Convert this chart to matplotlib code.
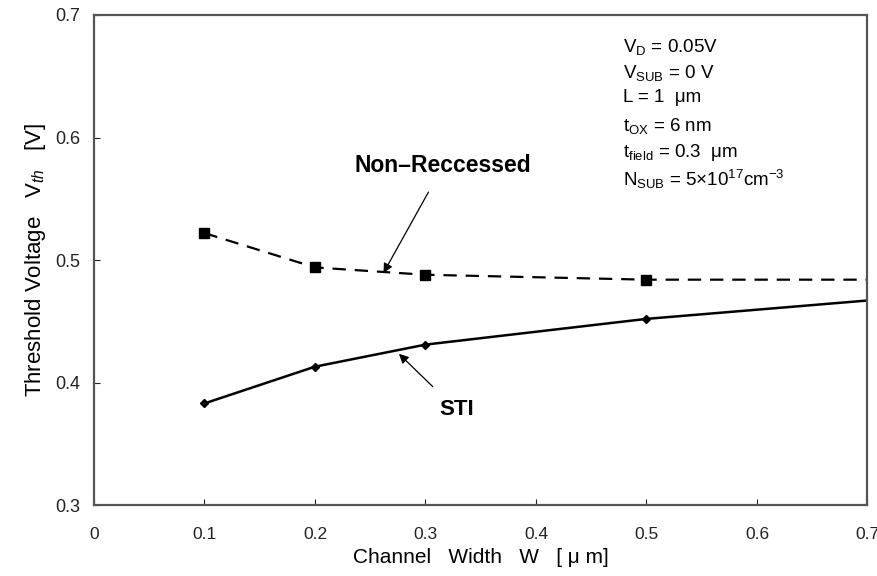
import matplotlib
matplotlib.use("Agg")
import matplotlib.pyplot as plt

plt.rcParams['font.family'] = ['Liberation Sans', 'DejaVu Sans']
plt.rcParams['mathtext.fontset'] = 'custom'
plt.rcParams['mathtext.rm'] = 'Liberation Sans'
plt.rcParams['mathtext.it'] = 'Liberation Sans:italic'

# channel width [um] and threshold voltage [V]
width_pts = [0.1, 0.2, 0.3, 0.5, 0.7]
vth_nonrecessed = [0.522, 0.494, 0.488, 0.484, 0.484]
vth_sti = [0.383, 0.413, 0.431, 0.452, 0.467]

xticks = [0, 0.1, 0.2, 0.3, 0.4, 0.5, 0.6, 0.7]
yticks = [0.3, 0.4, 0.5, 0.6, 0.7]

conditions = [
    r"V$_\mathrm{D}$ = 0.05V",
    r"V$_\mathrm{SUB}$ = 0 V",
    "L = 1  \u03bcm",
    r"t$_\mathrm{OX}$ = 6 nm",
    r"t$_\mathrm{field}$ = 0.3  $\mathrm{\mu}$m",
    r"N$_\mathrm{SUB}$ = 5$\times$10$^{17}$cm$^{-3}$",
]

fig = plt.figure(figsize=(8.78, 5.76), dpi=100)
ax = fig.add_axes([0.107, 0.123, 0.881, 0.851])

ax.plot(width_pts, vth_nonrecessed, color='black', lw=1.6, ls=(0, (6, 4)),
        marker='s', ms=6.5, markevery=[0, 1, 2, 3])
ax.plot(width_pts, vth_sti, color='black', lw=1.8, ls='-',
        marker='D', ms=4.5, markevery=[0, 1, 2, 3])

ax.set_xlim(0, 0.7)
ax.set_ylim(0.3, 0.7)
ax.set_xticks(xticks)
ax.set_yticks(yticks)
ax.set_xticklabels([f"{t:g}" for t in xticks])
ax.set_yticklabels([f"{t:.1f}" for t in yticks])
ax.tick_params(direction='in', length=4, width=0.8, colors='#222222')
ax.tick_params(axis='x', labelsize=12.5, pad=16)
ax.tick_params(axis='y', labelsize=13, pad=10)
for s in ax.spines.values():
    s.set_linewidth(1.6)
    s.set_color('#555555')

ax.set_xlabel("Channel   Width   W   [ \u03bc m]", fontsize=15, labelpad=4)
ax.set_ylabel(r"Threshold Voltage   V$_{th}$   [V]", fontsize=16, labelpad=5)

ax.annotate("Non\u2013Reccessed", xy=(0.262, 0.4895), xytext=(0.316, 0.577),
            ha='center', va='center', fontsize=16.5, fontweight='bold',
            arrowprops=dict(arrowstyle='-|>', color='black', lw=0.9,
                            shrinkA=10, shrinkB=0, mutation_scale=14))
ax.annotate("STI", xy=(0.276, 0.4235), xytext=(0.328, 0.378),
            ha='center', va='center', fontsize=16, fontweight='bold',
            arrowprops=dict(arrowstyle='-|>', color='black', lw=0.9,
                            shrinkA=10, shrinkB=0, mutation_scale=14))

for i, line in enumerate(conditions):
    ax.text(0.684, 0.955 - i * 0.0535, line, transform=ax.transAxes,
            fontsize=13.5, va='top', ha='left')

fig.savefig("out.png", dpi=100)
